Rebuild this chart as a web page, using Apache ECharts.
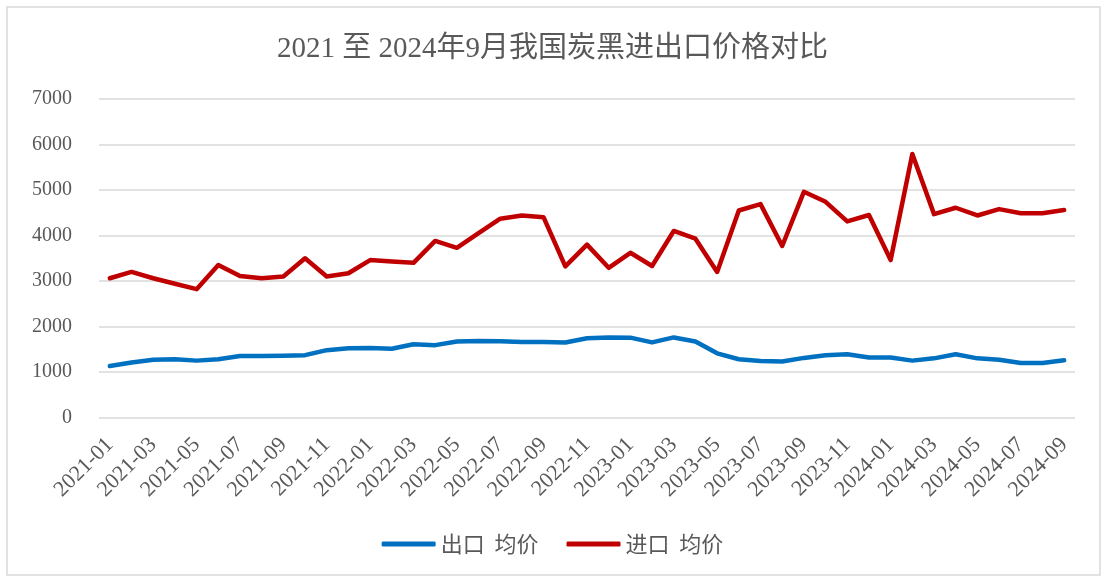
<!DOCTYPE html>
<html><head><meta charset="utf-8">
<script src="https://cdn.jsdelivr.net/npm/echarts@6/dist/echarts.min.js"></script>
<style>html,body{margin:0;padding:0;background:#fff}#c{width:1105px;height:579px}</style>
</head><body><div id="c"></div>
<script>
const months = [];
for (let y = 2021; y <= 2024; y++) for (let m = 1; m <= 12; m++) { if (y === 2024 && m > 9) break; months.push(y + '-' + String(m).padStart(2, '0')); }
const exportPrice = [1130,1210,1270,1280,1250,1280,1350,1350,1355,1370,1480,1520,1530,1510,1610,1590,1670,1680,1675,1660,1660,1650,1740,1760,1755,1650,1760,1670,1410,1280,1240,1230,1310,1370,1390,1320,1320,1250,1300,1390,1300,1270,1200,1200,1260];
const importPrice = [3060,3200,3060,2940,2820,3350,3110,3060,3100,3500,3100,3170,3460,3430,3400,3880,3730,4050,4370,4440,4400,3320,3800,3290,3620,3330,4100,3930,3200,4550,4690,3770,4960,4740,4310,4450,3460,5790,4470,4610,4440,4580,4490,4490,4560];
const yTicks = [0,1000,2000,3000,4000,5000,6000,7000];
const seriesNames = ['出口  均价','进口  均价'];
const serif = "'Liberation Serif','Noto Sans CJK SC',serif";
const sans = "'Noto Sans CJK SC','Noto Sans',sans-serif";
const chart = echarts.init(document.getElementById('c'));
chart.setOption({
  animation: false,
  backgroundColor: '#fff',
  graphic: [{ type: 'rect', shape: { x: 7, y: 7, width: 1093, height: 568 }, style: { fill: 'none', stroke: '#d9d9d9', lineWidth: 1.5 }, silent: true }],
  title: { text: '2021 至 2024年9月我国炭黑进出口价格对比', left: 'center', top: 30, textStyle: { fontFamily: serif, fontSize: 29, fontWeight: 'normal', color: '#595959' } },
  legend: { bottom: 19, left: 'center', itemGap: 28, itemWidth: 54, itemHeight: 5, icon: 'roundRect',
    textStyle: { fontFamily: sans, fontSize: 22, color: '#595959' }, data: seriesNames },
  grid: { left: 99, right: 30, top: 99, bottom: 161.5 },
  xAxis: { type: 'category', data: months, boundaryGap: true,
    axisLine: { show: false }, axisTick: { show: false },
    axisLabel: { interval: 1, rotate: 45, margin: 24, fontFamily: serif, fontSize: 22, color: '#595959' } },
  yAxis: { type: 'value', min: yTicks[0], max: yTicks[yTicks.length - 1], interval: 1000,
    axisLine: { show: false }, axisTick: { show: false },
    axisLabel: { margin: 27, fontFamily: serif, fontSize: 20, color: '#595959', formatter: v => String(v) },
    splitLine: { lineStyle: { color: '#d9d9d9', width: 1.5 } } },
  series: [
    { name: seriesNames[0], type: 'line', data: exportPrice, symbol: 'none', lineStyle: { color: '#0070C0', width: 4.5, cap: 'round', join: 'round' }, itemStyle: { color: '#0070C0' } },
    { name: seriesNames[1], type: 'line', data: importPrice, symbol: 'none', lineStyle: { color: '#C00000', width: 4.5, cap: 'round', join: 'round' }, itemStyle: { color: '#C00000' } }
  ]
});
</script></body></html>
